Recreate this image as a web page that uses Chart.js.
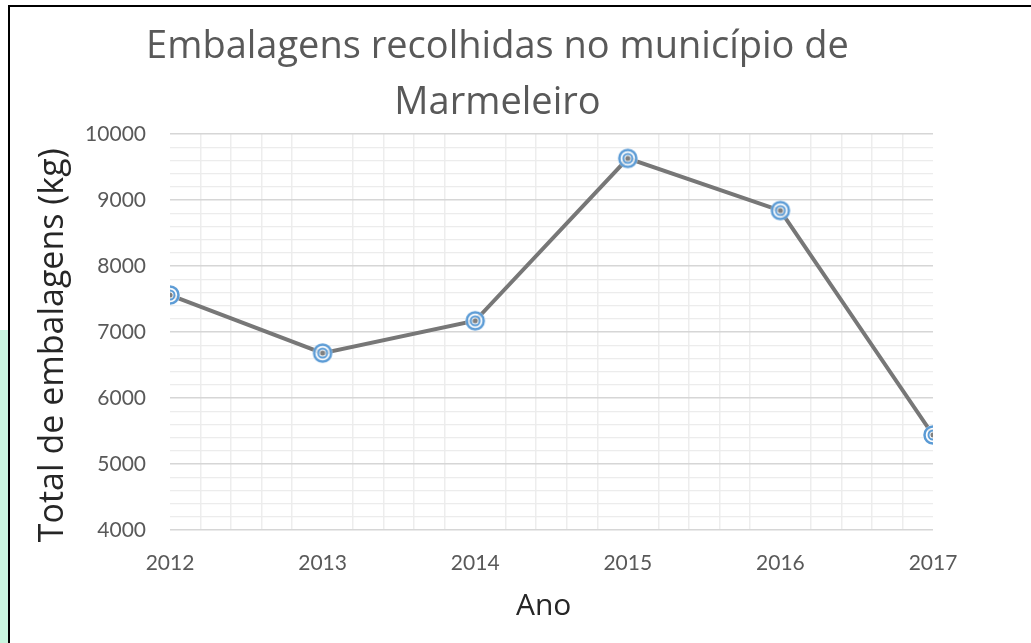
<!DOCTYPE html>
<html>
<head>
<meta charset="utf-8">
<script src="https://cdn.jsdelivr.net/npm/chart.js@4"></script>
<style>
    body { margin: 0; background: #fff; overflow: hidden; }
    #wrap { position: relative; width: 1031px; height: 643px; overflow: hidden; }
    #mint { position: absolute; left: 0; top: 330px; width: 8px; height: 313px; background: #c9f6df; }
    #frame { position: absolute; left: 8px; top: 5px; width: 1100px; height: 700px; border: 2px solid #000; }
    #chart { position: absolute; left: 0; top: 0; }
</style>
</head>
<body>
<div id="wrap">
    <div id="mint"></div>
    <div id="frame"></div>
    <canvas id="chart" width="1031" height="643"></canvas>
</div>
<script>
const years = [2012, 2013, 2014, 2015, 2016, 2017];
const totals = [7560, 6680, 7170, 9630, 8840, 5440];
const titleLines = ['Embalagens recolhidas no município de', 'Marmeleiro'];
// trailing spaces nudge the centred axis titles to where the original sits
const yTitle = 'Total de embalagens (kg)   ';
const xTitle = 'Ano  ';

// marker: blue double ring like the Excel "target" style
function makeMarker() {
    const c = document.createElement('canvas');
    c.width = 24;
    c.height = 24;
    const g = c.getContext('2d');
    g.fillStyle = 'rgba(255,255,255,0.85)';
    g.beginPath(); g.arc(12, 12, 10, 0, Math.PI * 2); g.fill();
    g.strokeStyle = '#5b9bd5';
    g.lineWidth = 2.5;
    g.beginPath(); g.arc(12, 12, 8.5, 0, Math.PI * 2); g.stroke();
    g.lineWidth = 2;
    g.beginPath(); g.arc(12, 12, 4.5, 0, Math.PI * 2); g.stroke();
    g.fillStyle = '#7f7f7f';
    g.beginPath(); g.arc(12, 12, 2.5, 0, Math.PI * 2); g.fill();
    return c;
}

const isWhole = v => Math.abs(v - Math.round(v)) < 1e-6;

new Chart(document.getElementById('chart'), {
    type: 'line',
    data: {
        datasets: [{
            data: years.map((y, i) => ({ x: y, y: totals[i] })),
            borderColor: '#777777',
            borderWidth: 4,
            tension: 0,
            pointStyle: makeMarker(),
            pointRadius: 11,
            pointHoverRadius: 11
        }]
    },
    options: {
        responsive: false,
        animation: false,
        events: [],
        // right padding only moves the title's centre; the plot edge comes from the x scale below
        layout: { padding: { left: 0, right: 36, top: 0, bottom: 0 } },
        plugins: {
            legend: { display: false },
            tooltip: { enabled: false },
            title: {
                display: true,
                text: titleLines,
                color: '#595959',
                font: { family: 'Open Sans', size: 38, weight: 'normal', lineHeight: '56px' },
                padding: { top: 19, bottom: 3 }
            }
        },
        scales: {
            x: {
                type: 'linear',
                min: 2012,
                max: 2017,
                border: { display: false },
                grid: {
                    drawTicks: false,
                    lineWidth: 1.5,
                    color: ctx => isWhole(ctx.tick.value) ? 'rgba(0,0,0,0)' : '#ededed'
                },
                ticks: {
                    stepSize: 0.2,
                    autoSkip: false,
                    maxRotation: 0,
                    padding: 21,
                    color: '#595959',
                    font: { family: 'Lato', size: 21 },
                    callback: v => isWhole(v) ? String(Math.round(v)) : ''
                },
                title: {
                    display: true,
                    text: xTitle,
                    color: '#262626',
                    font: { family: 'Open Sans', size: 30 },
                    padding: { top: 10, bottom: 19 }
                },
                afterFit: s => { s.height = 113; s.paddingRight = 98; }
            },
            y: {
                min: 4000,
                max: 10000,
                border: { display: false },
                grid: {
                    drawTicks: false,
                    lineWidth: ctx => ctx.tick.value % 1000 === 0 ? 1.5 : 1.2,
                    color: ctx => ctx.tick.value % 1000 === 0 ? '#d6d6d6' : '#ececec'
                },
                ticks: {
                    stepSize: 200,
                    autoSkip: false,
                    padding: 24,
                    color: '#595959',
                    font: { family: 'Lato', size: 21 },
                    callback: v => v % 1000 === 0 ? String(v) : ''
                },
                title: {
                    display: true,
                    text: yTitle,
                    color: '#262626',
                    font: { family: 'Open Sans', size: 34 },
                    padding: { top: 33, bottom: 0 }
                },
                afterFit: s => { s.width = 170; s.paddingTop = 0; s.paddingBottom = 0; }
            }
        }
    }
});
</script>
</body>
</html>
